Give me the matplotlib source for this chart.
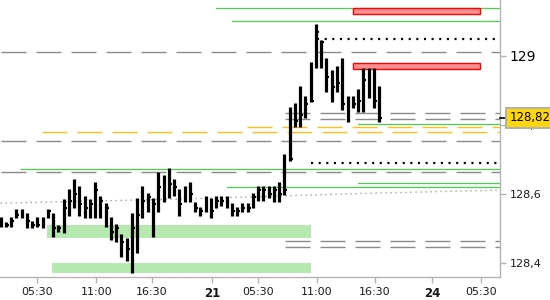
import numpy as np
import matplotlib
matplotlib.use("Agg")
import matplotlib.pyplot as plt
import matplotlib.transforms as mtransforms

plt.rcParams['font.family'] = ['DejaVu Sans']
plt.rcParams['lines.scale_dashes'] = False

# bar data (one bar per slot, index = position on the time axis)
highs = [128.533, 128.519, 128.533, 128.557, 128.557, 128.545, 128.522, 128.533, 128.533, 128.557,
         128.545, 128.510, 128.586, 128.614, 128.643, 128.623, 128.594, 128.586, 128.635, 128.594,
         128.574, 128.533, 128.513, 128.484, 128.472, 128.545, 128.588, 128.623, 128.603, 128.588,
         128.664, 128.655, 128.675, 128.643, 128.614, 128.623, 128.635, 128.577, 128.562, 128.594,
         128.588, 128.594, 128.594, 128.594, 128.574, 128.562, 128.574, 128.574, 128.603, 128.623,
         128.623, 128.623, 128.623, 128.635, 128.716, 128.852, 128.864, 128.913, 128.884, 128.983,
         129.093, 129.046, 128.994, 128.959, 128.971, 128.994, 128.884, 128.884, 128.904, 128.965,
         128.965, 128.965, 128.913]
lows = [128.504, 128.504, 128.504, 128.530, 128.530, 128.501, 128.501, 128.504, 128.501, 128.530,
        128.475, 128.490, 128.487, 128.536, 128.559, 128.536, 128.530, 128.530, 128.530, 128.530,
        128.504, 128.467, 128.461, 128.417, 128.406, 128.371, 128.429, 128.530, 128.548, 128.475,
        128.548, 128.577, 128.588, 128.594, 128.536, 128.577, 128.577, 128.548, 128.536, 128.548,
        128.530, 128.559, 128.565, 128.559, 128.536, 128.536, 128.548, 128.548, 128.559, 128.580,
        128.580, 128.588, 128.577, 128.577, 128.597, 128.696, 128.794, 128.794, 128.820, 128.867,
        128.965, 128.965, 128.896, 128.867, 128.896, 128.843, 128.809, 128.849, 128.838, 128.838,
        128.878, 128.849, 128.809]
closes = [128.52, 128.51, 128.52, 128.54, 128.55, 128.52, 128.51, 128.51, 128.52, 128.55,
          128.50, 128.50, 128.56, 128.58, 128.60, 128.57, 128.56, 128.57, 128.61, 128.58,
          128.56, 128.49, 128.50, 128.46, 128.44, 128.50, 128.54, 128.58, 128.59, 128.57,
          128.62, 128.63, 128.63, 128.62, 128.57, 128.61, 128.60, 128.56, 128.55, 128.57,
          128.55, 128.58, 128.58, 128.58, 128.55, 128.55, 128.56, 128.56, 128.59, 128.61,
          128.61, 128.60, 128.61, 128.60, 128.61, 128.70, 128.81, 128.83, 128.86, 128.87,
          129.07, 129.04, 128.94, 128.91, 128.92, 128.86, 128.87, 128.86, 128.87, 128.93,
          128.92, 128.87, 128.82]
last_price = 128.82

# time axis labels
tick_pos = [7.0, 18.2, 28.8, 40.2, 49.0, 60.2, 71.2, 82.1, 91.4]
tick_labels = ['05:30', '11:00', '16:30', '21', '05:30', '11:00', '16:30', '24', '05:30']
bold_ticks = ['21', '24']

# price axis
price_ticks = [128.4, 128.6, 128.8, 129.0]
price_labels = ['128,4', '128,6', '128,8', '129']

# horizontal levels: (price, start index, kind)
levels = [
    (129.139, 41.0, 'green'),
    (129.101, 44.1, 'green'),
    (129.049, 60.2, 'black_dot'),
    (129.012, 0.0, 'gray_dash'),
    (128.834, 54.1, 'gray_dash'),
    (128.817, 54.1, 'gray_dash'),
    (128.802, 68.0, 'green'),
    (128.793, 46.9, 'orange'),
    (128.779, 7.9, 'orange'),
    (128.753, 0.0, 'gray_dash'),
    (128.690, 59.1, 'black_dot'),
    (128.672, 3.9, 'green'),
    (128.663, 0.0, 'gray_dash'),
    (128.631, 68.0, 'green'),
    (128.619, 43.1, 'green'),
    (128.462, 54.1, 'gray_dash'),
    (128.446, 54.1, 'gray_dash'),
]

# zones: (start index, end index, low, high, kind)
zones = [
    (67.0, 91.2, 129.120, 129.138, 'red'),
    (67.0, 91.2, 128.962, 128.980, 'red'),
    (8.9, 59.1, 128.472, 128.510, 'green'),
    (9.8, 59.1, 128.372, 128.399, 'green'),
]

# slow average line
avg_x = [0, 34.2, 68.4, 95]
avg_y = [128.573, 128.585, 128.601, 128.611]

styles = {
    'green': dict(color='#4fcf4f', lw=0.9, ls='-'),
    'gray_dash': dict(color='#8a8a8a', lw=1.0, dashes=(18, 7.2)),
    'orange': dict(color='#ffbe1a', lw=1.0, dashes=(18, 7.2)),
    'black_dot': dict(color='black', lw=1.6, dashes=(1.5, 4)),
}
zone_colors = {'red': ('#ff9090', '#ff0000'), 'green': ('#b5e9b0', 'none')}

fig = plt.figure(figsize=(5.5, 3), dpi=100)
ax = fig.add_axes([0, 23 / 300, 500 / 550, 277 / 300])
x_max = 95.0
ax.set_xlim(-0.1, x_max)
ax.set_ylim(128.359, 129.162)

for x0, x1, lo, hi, kind in zones:
    fc, ec = zone_colors[kind]
    ax.add_patch(plt.Rectangle((x0, lo), x1 - x0, hi - lo, facecolor=fc,
                               edgecolor=ec, lw=1.0, zorder=2))

for price, start, kind in levels:
    ax.plot([start, x_max], [price, price], zorder=1, **styles[kind])

ax.plot(avg_x, avg_y, color='#a0a0a0', lw=1.0, dashes=(1, 2.6), zorder=1)

x = np.arange(len(highs))
ax.vlines(x, lows, highs, color='black', lw=2.3, zorder=4)
ax.hlines(closes, x, x + 0.55, color='black', lw=1.5, zorder=4)

for s in ['top', 'left']:
    ax.spines[s].set_visible(False)
for s in ['right', 'bottom']:
    ax.spines[s].set_color('#b4b4b4')
    ax.spines[s].set_linewidth(1.0)

ax.yaxis.tick_right()
ax.set_yticks(price_ticks)
ax.set_yticklabels(price_labels)
ax.set_xticks(tick_pos)
ax.set_xticklabels(tick_labels)
ax.tick_params(axis='both', colors='#b4b4b4', length=4, width=1, labelsize=8,
               labelcolor='#1a1a1a')
ax.tick_params(axis='y', pad=3)
for lab in ax.get_yticklabels():
    if lab.get_text() == '129':
        lab.set_fontsize(10)
        lab.set_color('black')
for lab in ax.get_xticklabels():
    if lab.get_text() in bold_ticks:
        lab.set_fontweight('bold')
        lab.set_fontsize(8.5)

trans = mtransforms.blended_transform_factory(ax.transAxes, ax.transData)
ax.plot([1.0, 1.012], [last_price, last_price], color='black', lw=1.2,
        transform=trans, clip_on=False, zorder=5)
ax.text(1.019, last_price, '128,82', transform=trans, va='center', ha='left',
        fontsize=8.5, color='black', zorder=6,
        bbox=dict(boxstyle='square,pad=0.3', fc='#ffd60a', ec='#b0b0b0', lw=1.4))

fig.savefig('out.png', dpi=100)
